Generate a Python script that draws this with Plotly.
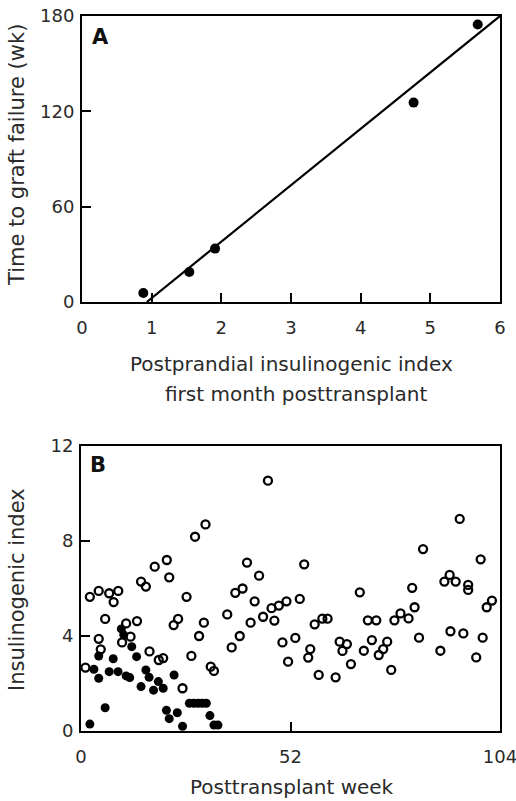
import plotly.graph_objects as go

# ---------------- Panel A data ----------------
a_index = [0.88, 1.54, 1.91, 4.76, 5.68]
a_weeks = [5.7, 18.9, 33.6, 125.5, 174.6]
fit_x = [0.93, 6.0]
fit_y = [0.0, 180.0]
a_xticks = [0, 1, 2, 3, 4, 5, 6]
a_yticks = [0, 60, 120, 180]

# ---------------- Panel B data ----------------
closed_week = [2.2, 6.0, 3.2, 4.4, 4.4, 7.0, 8.0, 9.2, 11.2, 12.1, 10.0, 10.6,
               12.6, 13.8, 14.9, 16.1, 16.9, 18.0, 19.2, 20.4, 23.1, 21.2, 21.9,
               23.9, 25.2, 26.9, 28.0, 29.1, 30.1, 31.1, 32.0, 33.0, 34.0]
closed_val = [0.29, 0.98, 2.6, 2.22, 3.16, 2.5, 3.04, 2.5, 2.32, 2.25, 4.3, 4.05,
              3.55, 3.13, 1.87, 2.57, 2.26, 1.72, 2.08, 1.8, 2.36, 0.87, 0.52,
              0.77, 0.2, 1.17, 1.17, 1.17, 1.17, 1.17, 0.65, 0.25, 0.25]

open_week = [2.2, 4.4, 7.0, 9.25, 8.1, 6.0, 4.4, 4.9, 1.1, 11.2, 13.9, 12.3, 10.2,
             14.9, 16.1, 18.3, 21.3, 21.9, 17.0, 19.3, 20.4, 23.0, 24.1, 25.2,
             26.2, 28.3, 30.9, 27.4, 29.3, 30.5, 32.2, 33.0, 36.3, 37.4, 39.4,
             38.3, 40.1, 41.2, 43.1, 42.1, 44.2, 45.2, 46.4, 47.3, 48.0, 49.1,
             50.0, 51.0, 51.4, 54.3, 55.4, 53.2, 58.0, 59.9, 61.2, 56.9, 56.4,
             59.0, 63.2, 64.2, 66.0, 64.9, 67.0, 69.2, 70.2, 71.2, 73.3, 72.2,
             76.0, 75.0, 73.9, 77.0, 77.8, 79.3, 81.3, 82.8, 82.2, 84.9, 83.9,
             89.2, 90.2, 91.5, 93.0, 91.7, 94.0, 94.9, 96.1, 96.1, 99.2, 98.1,
             99.7, 100.7, 102.0]
open_val = [5.65, 5.9, 5.8, 5.9, 5.43, 4.72, 3.88, 3.44, 2.67, 4.53, 4.63, 3.97, 3.73,
            6.29, 6.08, 6.92, 7.2, 6.47, 3.35, 2.99, 3.07, 4.46, 4.72, 1.8,
            5.65, 8.18, 8.7, 3.16, 4.0, 4.56, 2.71, 2.53, 4.91, 3.52, 4.0,
            5.82, 6.0, 7.09, 5.46, 4.56, 6.54, 4.81, 10.54, 5.17, 4.65, 5.28,
            3.73, 5.46, 2.92, 5.56, 7.02, 3.92, 4.49, 4.73, 4.73, 3.45, 3.09,
            2.36, 2.26, 3.76, 3.66, 3.37, 2.82, 5.84, 3.38, 4.66, 4.66, 3.83,
            3.76, 3.45, 3.2, 2.57, 4.66, 4.95, 4.74, 5.21, 6.03, 7.66, 3.93,
            3.38, 6.29, 6.57, 6.29, 4.2, 8.93, 4.11, 6.15, 5.94, 7.23, 3.1,
            3.93, 5.21, 5.49]
b_xticks = [0, 52, 104]
b_yticks = [0, 4, 8, 12]

FONT = "DejaVu Sans"
TXT = "#2a2a2a"
W, H = 516, 801

fig = go.Figure()

fig.add_trace(go.Scatter(x=fit_x, y=fit_y, mode="lines",
                         line=dict(color="black", width=2.2),
                         xaxis="x", yaxis="y", cliponaxis=False, showlegend=False))
fig.add_trace(go.Scatter(x=a_index, y=a_weeks, mode="markers",
                         marker=dict(color="black", size=10),
                         xaxis="x", yaxis="y", cliponaxis=False, showlegend=False))

fig.add_trace(go.Scatter(x=closed_week, y=closed_val, mode="markers",
                         marker=dict(color="black", size=9),
                         xaxis="x2", yaxis="y2", cliponaxis=False, showlegend=False))
fig.add_trace(go.Scatter(x=open_week, y=open_val, mode="markers",
                         marker=dict(symbol="circle-open", color="black", size=8,
                                     line=dict(width=2.3, color="black")),
                         xaxis="x2", yaxis="y2", cliponaxis=False, showlegend=False))

def px_x(p):
    return p / W

def px_y(p):
    return 1 - p / H

common = dict(showline=True, mirror=True, linecolor="black", linewidth=2,
              ticks="inside", tickcolor="black", tickwidth=1.6, ticklen=9,
              showgrid=False, zeroline=False, automargin=False,
              ticklabeloverflow="allow",
              tickfont=dict(family=FONT, size=18, color=TXT))

fig.update_layout(
    width=W, height=H,
    margin=dict(l=0, r=0, t=0, b=0, autoexpand=False),
    paper_bgcolor="white", plot_bgcolor="white",
    xaxis=dict(domain=[px_x(82), px_x(500)], range=[0, 6], tickvals=a_xticks,
               anchor="y", ticklabelstandoff=8, **common),
    yaxis=dict(domain=[px_y(302), px_y(16)], range=[0, 180], tickvals=a_yticks,
               anchor="x", ticklabelstandoff=2, **common),
    xaxis2=dict(domain=[px_x(81), px_x(500)], range=[0, 104], tickvals=b_xticks,
                anchor="y2", ticklabelstandoff=8, **common),
    yaxis2=dict(domain=[px_y(731), px_y(446)], range=[0, 12], tickvals=b_yticks,
                anchor="x2", ticklabelstandoff=2, **common),
    annotations=[
        dict(text="<b>A</b>", x=px_x(90), y=px_y(37), xref="paper", yref="paper",
             xanchor="left", yanchor="middle", showarrow=False,
             font=dict(family=FONT, size=21, color="#111")),
        dict(text="<b>B</b>", x=px_x(88), y=px_y(465), xref="paper", yref="paper",
             xanchor="left", yanchor="middle", showarrow=False,
             font=dict(family=FONT, size=21, color="#111")),
        dict(text="Time to graft failure (wk)", x=px_x(17), y=px_y(155),
             xref="paper", yref="paper", xanchor="center", yanchor="middle",
             textangle=-90, showarrow=False,
             font=dict(family=FONT, size=21, color=TXT)),
        dict(text="Postprandial insulinogenic index", x=px_x(291), y=px_y(364),
             xref="paper", yref="paper", xanchor="center", yanchor="middle",
             showarrow=False, font=dict(family=FONT, size=20, color=TXT)),
        dict(text="first month posttransplant", x=px_x(296), y=px_y(394),
             xref="paper", yref="paper", xanchor="center", yanchor="middle",
             showarrow=False, font=dict(family=FONT, size=20, color=TXT)),
        dict(text="Insulinogenic index", x=px_x(17), y=px_y(590),
             xref="paper", yref="paper", xanchor="center", yanchor="middle",
             textangle=-90, showarrow=False,
             font=dict(family=FONT, size=21, color=TXT)),
        dict(text="Posttransplant week", x=px_x(292), y=px_y(787),
             xref="paper", yref="paper", xanchor="center", yanchor="middle",
             showarrow=False, font=dict(family=FONT, size=20, color=TXT)),
    ],
)

fig.write_html("out.html")
